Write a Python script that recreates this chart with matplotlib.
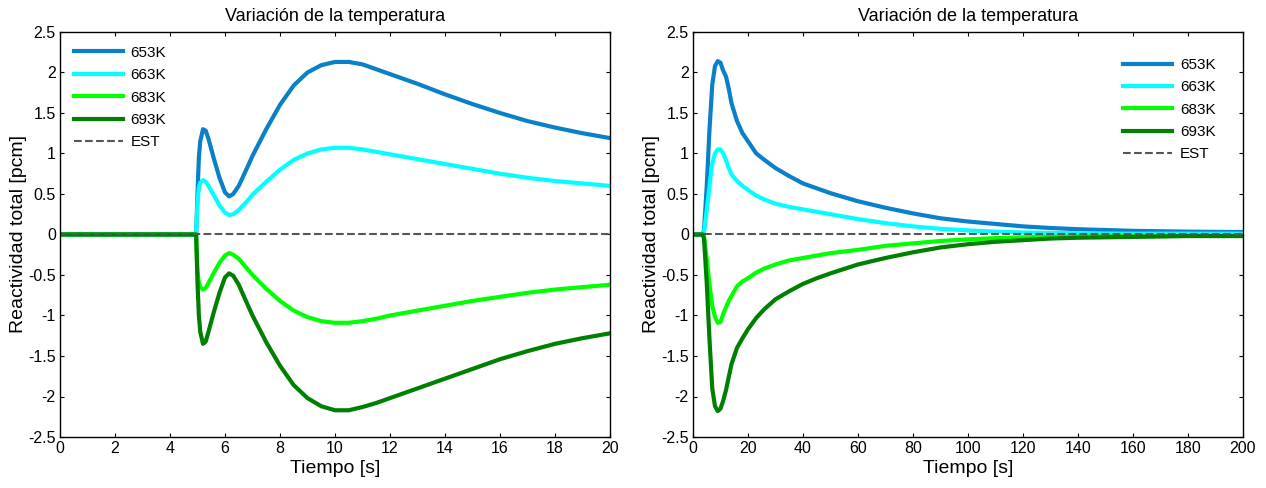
import numpy as np
import matplotlib
matplotlib.use("Agg")
import matplotlib.pyplot as plt
from matplotlib.ticker import FormatStrFormatter

plt.rcParams['font.family'] = ['Liberation Sans', 'DejaVu Sans']
plt.rcParams['axes.unicode_minus'] = False

# --- left panel: 0-20 s ---
t_left = [0, 4.95, 5.0, 5.05, 5.1, 5.2, 5.3, 5.4, 5.6, 5.8, 6.0, 6.15, 6.3, 6.5, 6.8,
          7.0, 7.5, 8.0, 8.5, 9.0, 9.5, 10.0, 10.5, 11.0, 11.5, 12.0, 13.0, 14.0,
          15.0, 16.0, 17.0, 18.0, 19.0, 20.0]
k653_left = [0, 0, 0.5, 0.95, 1.15, 1.30, 1.28, 1.18, 0.93, 0.70, 0.52, 0.47, 0.50, 0.60, 0.82,
             0.97, 1.30, 1.60, 1.84, 2.00, 2.09, 2.13, 2.13, 2.10, 2.04, 1.98, 1.86, 1.73,
             1.61, 1.50, 1.40, 1.32, 1.25, 1.19]
k663_left = [0, 0, 0.4, 0.58, 0.64, 0.67, 0.65, 0.60, 0.48, 0.36, 0.27, 0.24, 0.25, 0.30, 0.41,
             0.49, 0.65, 0.80, 0.92, 1.00, 1.05, 1.07, 1.07, 1.05, 1.02, 0.99, 0.93, 0.87,
             0.81, 0.75, 0.70, 0.66, 0.63, 0.60]
k683_left = [0, 0, -0.45, -0.60, -0.65, -0.68, -0.66, -0.60, -0.47, -0.35, -0.26, -0.23, -0.25, -0.30, -0.42,
             -0.50, -0.67, -0.82, -0.94, -1.02, -1.07, -1.09, -1.09, -1.07, -1.04, -1.00, -0.94, -0.88,
             -0.82, -0.77, -0.72, -0.68, -0.65, -0.62]
k693_left = [0, 0, -0.6, -1.0, -1.2, -1.35, -1.32, -1.20, -0.95, -0.72, -0.53, -0.48, -0.51, -0.62, -0.85,
             -1.00, -1.33, -1.62, -1.86, -2.02, -2.12, -2.17, -2.17, -2.13, -2.08, -2.02, -1.90, -1.78,
             -1.66, -1.54, -1.44, -1.35, -1.28, -1.22]

# --- right panel: 0-200 s ---
t_right = [0, 3.5, 4, 5, 6, 7, 8, 9, 10, 11, 12, 13, 14, 16, 18, 20, 23, 26, 30, 35, 40, 45, 50,
           60, 70, 80, 90, 100, 110, 120, 130, 140, 150, 160, 170, 180, 190, 200]
k653_right = [0, 0, 0.05, 0.6, 1.3, 1.85, 2.08, 2.14, 2.12, 2.02, 1.95, 1.80, 1.62, 1.40, 1.25, 1.15,
              1.00, 0.92, 0.82, 0.72, 0.63, 0.57, 0.51, 0.41, 0.33, 0.26, 0.20, 0.16, 0.13, 0.10,
              0.08, 0.065, 0.055, 0.045, 0.04, 0.035, 0.032, 0.03]
k663_right = [0, 0, 0.02, 0.3, 0.6, 0.88, 1.00, 1.05, 1.05, 1.00, 0.92, 0.82, 0.74, 0.66, 0.60, 0.55,
              0.48, 0.43, 0.38, 0.34, 0.31, 0.28, 0.25, 0.19, 0.14, 0.10, 0.07, 0.05, 0.035, 0.025,
              0.02, 0.015, 0.012, 0.01, 0.01, 0.01, 0.01, 0.01]
k683_right = [0, 0, -0.02, -0.3, -0.62, -0.88, -1.02, -1.09, -1.08, -0.98, -0.90, -0.82, -0.76, -0.64, -0.58, -0.54,
              -0.47, -0.42, -0.37, -0.32, -0.29, -0.26, -0.23, -0.19, -0.14, -0.11, -0.08, -0.06, -0.045, -0.035,
              -0.03, -0.025, -0.02, -0.02, -0.02, -0.015, -0.015, -0.015]
k693_right = [0, 0, -0.05, -0.6, -1.3, -1.9, -2.12, -2.18, -2.15, -2.05, -1.92, -1.76, -1.60, -1.40, -1.28, -1.17,
              -1.03, -0.92, -0.80, -0.70, -0.61, -0.54, -0.48, -0.37, -0.29, -0.22, -0.16, -0.12, -0.09, -0.07,
              -0.05, -0.04, -0.035, -0.03, -0.025, -0.02, -0.02, -0.02]

labels = ['653K', '663K', '683K', '693K']
colors = ['#0a80c8', '#00ffff', '#00ff00', '#008000']

fig = plt.figure(figsize=(12.66, 4.88), dpi=100)
ax1 = fig.add_axes([0.0474, 0.1045, 0.4344, 0.830])
ax2 = fig.add_axes([0.5474, 0.1045, 0.4344, 0.830])

panels = [
    (ax1, t_left, [k653_left, k663_left, k683_left, k693_left], 20, 2,
     dict(loc='upper left', borderaxespad=0.5)),
    (ax2, t_right, [k653_right, k663_right, k683_right, k693_right], 200, 20,
     dict(loc='upper right', bbox_to_anchor=(0.975, 0.97))),
]

for ax, t, series, xmax, xstep, legkw in panels:
    for vals, lab, c in zip(series, labels, colors):
        ax.plot(t, vals, color=c, lw=3, label=lab)
    ax.plot([0, xmax], [0, 0], '--', color='#555555', lw=1.5, label='EST')
    ax.set_xlim(0, xmax)
    ax.set_ylim(-2.5, 2.5)
    ax.set_xticks(np.arange(0, xmax + xstep / 2, xstep))
    ax.set_yticks(np.arange(-2.5, 2.51, 0.5))
    ax.yaxis.set_major_formatter(FormatStrFormatter('%g'))
    ax.tick_params(direction='in', top=True, right=True, length=3, labelsize=11.5, pad=3)
    ax.set_title('Variación de la temperatura', fontsize=13, pad=8)
    ax.set_xlabel('Tiempo [s]', fontsize=14, labelpad=3)
    ax.set_ylabel('Reactividad total [pcm]', fontsize=14, labelpad=1)
    for s in ax.spines.values():
        s.set_linewidth(1.0)
    ax.legend(frameon=False, fontsize=11, handlelength=3.2,
              labelspacing=0.55, handletextpad=0.5, **legkw)

fig.savefig('out.png', dpi=100)
